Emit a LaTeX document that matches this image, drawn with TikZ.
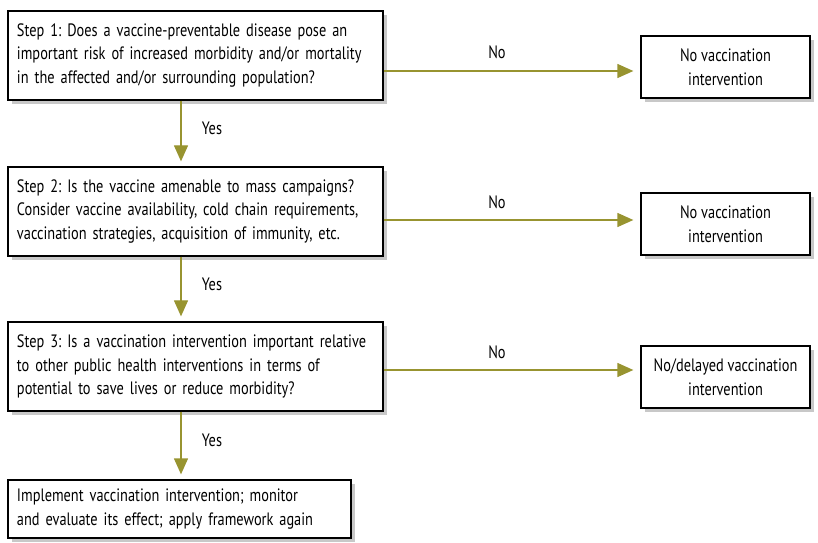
\documentclass[tikz,border=0pt]{standalone}
\usepackage{fontspec}
\setmainfont{PT Sans}[FakeStretch=0.8]
\usetikzlibrary{arrows.meta,shadows}
\definecolor{arrowolive}{RGB}{152,148,48}
\definecolor{shadowgray}{RGB}{200,200,200}
\frenchspacing

\begin{document}
\begin{tikzpicture}[x=1bp,y=-1bp,
    box/.style={draw=black,line width=1.3bp,fill=white,align=left,inner xsep=9bp,
      font=\fontsize{18}{24}\selectfont,
      drop shadow={shadow xshift=4bp,shadow yshift=-4bp,fill=shadowgray,opacity=1}},
    endbox/.style={box,align=center,minimum width=169bp,minimum height=62bp},
    stepbox/.style={box,minimum width=375bp,minimum height=89bp,text width=357bp},
    arr/.style={draw=arrowolive,line width=1.3bp,-{Triangle[length=16bp,width=14bp,fill=arrowolive]}},
    lbl/.style={font=\fontsize{18}{24}\selectfont}]
   \useasboundingbox (0,0) rectangle (818,543);
   % question steps
   \node[stepbox] (s1) at (195.5,55.5) {Step 1: Does a vaccine-preventable disease pose an\\important risk of increased morbidity and/or mortality\\in the affected and/or surrounding population?};
   \node[stepbox] (s2) at (195.5,211.5) {Step 2: Is the vaccine amenable to mass campaigns?\\Consider vaccine availability, cold chain requirements,\\vaccination strategies, acquisition of immunity, etc.};
   \node[stepbox] (s3) at (195.5,366.5) {Step 3: Is a vaccination intervention important relative\\to other public health interventions in terms of\\potential to save lives or reduce morbidity?};
   \node[box,minimum width=343bp,minimum height=58bp,text width=325bp] (s4) at (179.5,509) {Implement vaccination intervention; monitor\\and evaluate its effect; apply framework again};
   % outcomes
   \node[endbox] (r1) at (725.5,67) {No vaccination\\intervention};
   \node[endbox] (r2) at (725.5,224) {No vaccination\\intervention};
   \node[endbox] (r3) at (725.5,377) {No/delayed vaccination\\intervention};
   % no-branches
   \draw[arr,shorten >=7bp] ([yshift=-15.5bp]s1.east) -- ([yshift=-15.5bp]s1.east -| r1.west);
   \draw[arr,shorten >=7bp] ([yshift=-8.5bp]s2.east) -- ([yshift=-8.5bp]s2.east -| r2.west);
   \draw[arr,shorten >=7bp] ([yshift=-3.5bp]s3.east) -- ([yshift=-3.5bp]s3.east -| r3.west);
   \node[lbl] (no1) at (497,52) {No};
   \node[lbl] (no2) at (497,202) {No};
   \node[lbl] (no3) at (497,352) {No};
   % yes-branches
   \draw[arr,shorten >=5bp] ([xshift=-14.5bp]s1.south) -- ([xshift=-14.5bp]s1.south |- s2.north);
   \draw[arr,shorten >=5bp] ([xshift=-14.5bp]s2.south) -- ([xshift=-14.5bp]s2.south |- s3.north);
   \draw[arr,shorten >=5bp] ([xshift=-14.5bp]s3.south) -- ([xshift=-14.5bp]s3.south |- s4.north);
   \node[lbl] (yes1) at (212,128) {Yes};
   \node[lbl] (yes2) at (212,284) {Yes};
   \node[lbl] (yes3) at (212,440) {Yes};
\end{tikzpicture}
\end{document}
